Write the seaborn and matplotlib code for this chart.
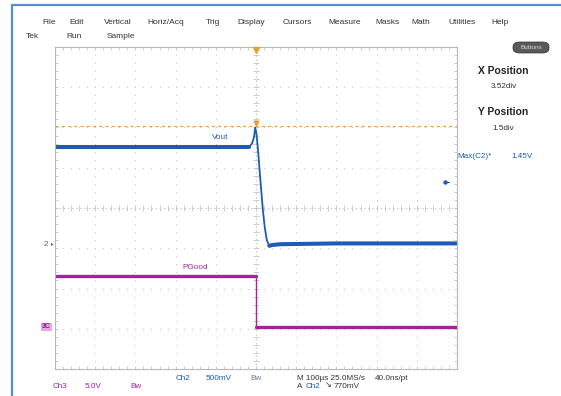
import numpy as np
import pandas as pd
import matplotlib
matplotlib.use("Agg")
import matplotlib.pyplot as plt
from matplotlib.lines import Line2D
from matplotlib.patches import FancyBboxPatch
import seaborn as sns

# ---------------- data ----------------
vout_time_us = [-500, -17, -10, -5, -2, 1, 5, 10, 17, 22, 27, 33, 40, 60, 200, 500]
vout_volts = [1.21, 1.21, 1.25, 1.33, 1.45, 1.38, 1.17, 0.85, 0.43, 0.20, 0.05, -0.02, -0.01, 0.0, 0.01, 0.01]
pgood_time_us = [-500, 0, 0, 500]
pgood_volts = [6.35, 6.35, 0.0, 0.0]
ch2_volts_per_div = 0.5
ch3_volts_per_div = 5.0
ch2_offset_div = -0.9
ch3_offset_div = -2.96
ref_level_v = 1.47      # orange dashed level (ch2 volts)
trig_level_v = 0.77     # trigger level marker (ch2 volts)
menu_items = ["File", "Edit", "Vertical", "Horiz/Acq", "Trig", "Display",
              "Cursors", "Measure", "Masks", "Math", "Utilities", "Help"]
menu_x_px = [42, 69, 104, 147, 206, 237, 283, 328, 375, 411, 448, 491]

W, H = 561, 396
BLUE = "#1d5bb5"
MAG = "#a3239e"
ORANGE = "#f0a050"
GRID = "#c4c4c4"
TXT = "#333333"
FS = 5.9

sns.set_theme(style="white")
plt.rcParams["font.family"] = ["Liberation Sans", "DejaVu Sans"]

fig = plt.figure(figsize=(W / 100, H / 100), dpi=100)
fig.patch.set_facecolor("white")
ax = fig.add_axes([55 / W, 1 - 369 / H, 402 / W, 322 / H])
ax.set_xlim(-500, 500)
ax.set_ylim(-4, 4)
ax.set_xticks([])
ax.set_yticks([])
for s in ax.spines.values():
    s.set_color("#b8b8b8")
    s.set_linewidth(0.8)

def px(x, y):
    return x / W, 1 - y / H

# ---------------- graticule ----------------
minor_x = np.arange(-500, 501, 20)
minor_y = np.round(np.arange(-4, 4.01, 0.2), 2)
for k in range(-4, 5):
    if k == 0:
        continue
    ax.scatter(np.full(len(minor_y), k * 100), minor_y, s=0.7, color=GRID, lw=0)
for j in range(-3, 4):
    if j == 0:
        continue
    ax.scatter(minor_x, np.full(len(minor_x), j), s=0.7, color=GRID, lw=0)
# center cross with ticks
ax.axhline(0, color=GRID, lw=0.6, ls=(0, (2, 3)))
ax.axvline(0, color=GRID, lw=0.6, ls=(0, (2, 3)))
ax.vlines(minor_x, -0.07, 0.07, color=GRID, lw=0.6)
ax.hlines(minor_y, -7, 7, color=GRID, lw=0.6)
# border rulers
ax.vlines(minor_x, 4 - 0.08, 4, color=GRID, lw=0.6)
ax.vlines(minor_x, -4, -4 + 0.08, color=GRID, lw=0.6)
ax.hlines(minor_y, -500, -492, color=GRID, lw=0.6)
ax.hlines(minor_y, 492, 500, color=GRID, lw=0.6)

# ---------------- traces ----------------
ref_div = ref_level_v / ch2_volts_per_div + ch2_offset_div
ax.axhline(ref_div, color=ORANGE, lw=0.9, ls=(0, (2.5, 2.5)))

vout = pd.DataFrame({"t": vout_time_us,
                     "div": np.array(vout_volts) / ch2_volts_per_div + ch2_offset_div})
vout["seg"] = np.where(vout["t"] <= -17, "pre", np.where(vout["t"] >= 33, "post", "edge"))
pg = pd.DataFrame({"t": pgood_time_us,
                   "div": np.array(pgood_volts) / ch3_volts_per_div + ch3_offset_div})
pg["seg"] = ["high", "high", "low", "low"]

sns.lineplot(data=vout, x="t", y="div", ax=ax, color=BLUE, lw=1.3,
             estimator=None, sort=False)
sns.lineplot(data=vout[vout.seg != "edge"], x="t", y="div", units="seg", ax=ax,
             color=BLUE, lw=2.9, estimator=None, sort=False)
sns.lineplot(data=pg, x="t", y="div", ax=ax, color=MAG, lw=1.0,
             estimator=None, sort=False)
sns.lineplot(data=pg, x="t", y="div", units="seg", ax=ax,
             color=MAG, lw=2.4, estimator=None, sort=False)
ax.set_xlabel("")
ax.set_ylabel("")

# markers
ax.plot(0, 3.93, marker="v", color="#e5a030", ms=5, clip_on=False, zorder=5)
ax.plot(0, ref_div + 0.07, marker="v", color="#e5a030", ms=3.5, zorder=5)
trig_div = trig_level_v / ch2_volts_per_div + ch2_offset_div
ax.plot([470, 480], [trig_div, trig_div], color=BLUE, lw=0.8)
ax.plot(470, trig_div, marker="o", color=BLUE, ms=2.2)

ax.text(-90, 1.74, "Vout", color=BLUE, fontsize=FS, ha="center", va="center")
ax.text(-152, -1.47, "PGood", color=MAG, fontsize=FS, ha="center", va="center")

# left channel markers
fig.text(*px(46, 244), "2", color="#556070", fontsize=FS, ha="center", va="center")
fig.text(*px(52, 244), "\u25b8", color="#556070", fontsize=4, ha="center", va="center")
fig.text(*px(46.5, 327), "3C", color="#7a1c78", fontsize=5, ha="center", va="center",
         fontweight="bold", bbox=dict(boxstyle="square,pad=0.1", fc="#e6a8e4", ec="none"))

# ---------------- frame ----------------
fig.add_artist(Line2D([12 / W, 12 / W], [0, 1 - 5 / H], color="#5b8ad0", lw=1.6))
fig.add_artist(Line2D([12 / W, 1], [1 - 5 / H, 1 - 5 / H], color="#5b8ad0", lw=1.6))

# ---------------- menu ----------------
for name, x in zip(menu_items, menu_x_px):
    fig.text(*px(x, 22), name, color=TXT, fontsize=6.0, ha="left", va="center")
fig.text(*px(26, 36), "Tek", color=TXT, fontsize=6.0, ha="left", va="center")
fig.text(*px(66, 36), "Run", color=TXT, fontsize=6.0, ha="left", va="center")
fig.text(*px(107, 36), "Sample", color=TXT, fontsize=6.0, ha="left", va="center")

btn = FancyBboxPatch((513 / W, 1 - 53 / H), 36 / W, 11 / H,
                     boxstyle="round,pad=0,rounding_size=0.012",
                     transform=fig.transFigure, fc="#5a5a5a", ec="#333333", lw=0.5)
fig.add_artist(btn)
fig.text(*px(531, 47.5), "Buttons", color="#dddddd", fontsize=4.6, ha="center", va="center")

# ---------------- right panel ----------------
fig.text(*px(503, 71), "X Position", color="#222222", fontsize=7.4, ha="center",
         va="center", fontweight="bold")
fig.text(*px(504, 87), "3.52div", color=TXT, fontsize=FS, ha="center", va="center")
fig.text(*px(503, 112), "Y Position", color="#222222", fontsize=7.4, ha="center",
         va="center", fontweight="bold")
fig.text(*px(503, 128), "1.5div", color=TXT, fontsize=FS, ha="center", va="center")
fig.text(*px(457, 157), "Max(C2)*", color=BLUE, fontsize=FS, ha="left", va="center")
fig.text(*px(511, 157), "1.45V", color=BLUE, fontsize=FS, ha="left", va="center")

# ---------------- bottom readouts ----------------
fig.text(*px(176, 378), "Ch2", color=BLUE, fontsize=FS, ha="left", va="center")
fig.text(*px(206, 378), "500mV", color=BLUE, fontsize=FS, ha="left", va="center")
fig.text(*px(250, 378), "Bw", color="#6a7f9a", fontsize=FS, ha="left", va="center")
fig.text(*px(297, 378), "M 100\u00b5s 25.0MS/s", color=TXT, fontsize=FS, ha="left", va="center")
fig.text(*px(375, 378), "40.0ns/pt", color=TXT, fontsize=FS, ha="left", va="center")
fig.text(*px(297, 386), "A", color=TXT, fontsize=FS, ha="left", va="center")
fig.text(*px(306, 386), "Ch2", color=BLUE, fontsize=FS, ha="left", va="center")
fig.text(*px(325, 386), "\u2198", color=TXT, fontsize=FS, ha="left", va="center")
fig.text(*px(334, 386), "770mV", color=TXT, fontsize=FS, ha="left", va="center")
fig.text(*px(53, 386), "Ch3", color=MAG, fontsize=FS, ha="left", va="center")
fig.text(*px(85, 386), "5.0V", color=MAG, fontsize=FS, ha="left", va="center")
fig.text(*px(130, 386), "Bw", color=MAG, fontsize=FS, ha="left", va="center")

fig.savefig("out.png", dpi=100, facecolor="white")
